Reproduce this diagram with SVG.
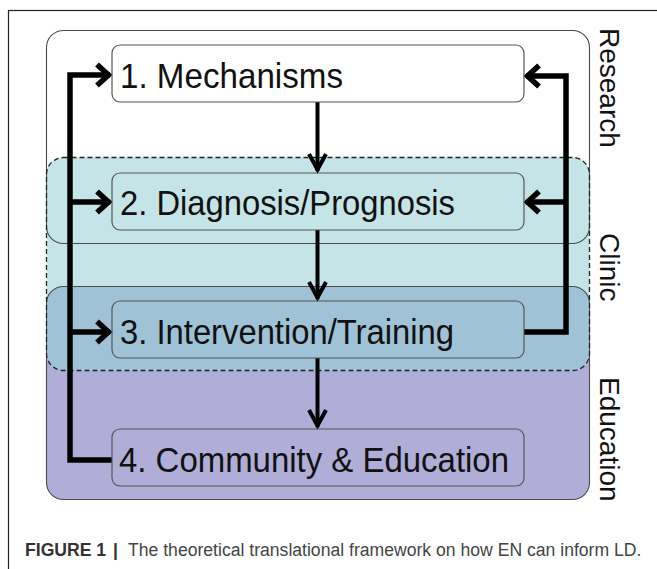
<svg xmlns="http://www.w3.org/2000/svg" width="657" height="569" viewBox="0 0 657 569">
<style>
.frame{fill:none;stroke:#222;stroke-width:1.2}
.box{stroke:#4a4a4a;stroke-width:1.1;fill:none}
.dash{fill:none;stroke:#222;stroke-width:1.3;stroke-dasharray:5 3}
.node{fill:none;stroke:#555;stroke-width:1.2}
.lbl{font-family:"Liberation Sans",Arial,sans-serif;font-size:35px;fill:#111}
.side{font-family:"Liberation Sans",Arial,sans-serif;font-size:28px;fill:#111}
.thick{fill:none;stroke:#000;stroke-width:5.5;stroke-linejoin:miter}
.thin{fill:none;stroke:#000;stroke-width:4}
.cap{font-family:"Liberation Sans",Arial,sans-serif;font-size:17.6px;fill:#444}
</style>
<defs>
<marker id="big" markerUnits="userSpaceOnUse" markerWidth="40" markerHeight="40" refX="0" refY="0" orient="auto" overflow="visible" viewBox="-20 -20 40 40">
<path d="M-13,-10.5 L-1.5,0 L-13,10.5" fill="none" stroke="#000" stroke-width="5.5" stroke-linejoin="miter"/>
</marker>
<marker id="small" markerUnits="userSpaceOnUse" markerWidth="40" markerHeight="40" refX="0" refY="0" orient="auto" overflow="visible" viewBox="-20 -20 40 40">
<path d="M-17,-8.5 L-1.5,0 L-17,8.5" fill="none" stroke="#000" stroke-width="4" stroke-linejoin="miter"/>
</marker>
</defs>
<rect class="frame" x="8.5" y="10.5" width="700" height="600"/>
<g id="regions">
<rect id="research-fill" x="46.5" y="30.5" width="543" height="213" rx="17" fill="#ffffff"/>
<rect id="education-fill" x="46.5" y="286.5" width="543" height="213" rx="17" fill="#b0aed8"/>
<rect id="clinic-fill" x="46.5" y="157.5" width="543" height="213" rx="17" fill="#c5e4e7"/>
<path id="overlap-fill" d="M46.5,303.5 A17,17 0 0 1 63.5,286.5 H572.5 A17,17 0 0 1 589.5,303.5 V353.5 A17,17 0 0 1 572.5,370.5 H63.5 A17,17 0 0 1 46.5,353.5 Z" fill="#a0c2d7"/>
<rect class="box" x="46.5" y="30.5" width="543" height="213" rx="17"/>
<rect class="box" x="46.5" y="286.5" width="543" height="213" rx="17"/>
<rect class="dash" x="46.5" y="157.5" width="543" height="213" rx="17"/>
<text class="side" transform="translate(600,28) rotate(90)">Research</text>
<text class="side" transform="translate(600,233) rotate(90)">Clinic</text>
<text class="side" transform="translate(600,377) rotate(90)">Education</text>
</g>
<g id="connectors">
<path class="thick" d="M112,460 H70 V75 H110" marker-end="url(#big)"/>
<path class="thick" d="M70,202 H110" marker-end="url(#big)"/>
<path class="thick" d="M70,332 H110" marker-end="url(#big)"/>
<path class="thick" d="M524,332 H566 V76 H526" marker-end="url(#big)"/>
<path class="thick" d="M566,202 H526" marker-end="url(#big)"/>
<path class="thin" d="M317.5,102 V171" marker-end="url(#small)"/>
<path class="thin" d="M317.5,230 V299" marker-end="url(#small)"/>
<path class="thin" d="M317.5,358 V427" marker-end="url(#small)"/>
</g>
<g id="node1">
<rect class="node" x="112" y="45" width="412" height="57" rx="8"/>
<text class="lbl" x="120" y="88" textLength="223" lengthAdjust="spacingAndGlyphs">1. Mechanisms</text>
</g>
<g id="node2">
<rect class="node" x="112" y="173" width="412" height="57" rx="8"/>
<text class="lbl" x="120" y="215" textLength="335" lengthAdjust="spacingAndGlyphs">2. Diagnosis/Prognosis</text>
</g>
<g id="node3">
<rect class="node" x="112" y="301" width="412" height="57" rx="8"/>
<text class="lbl" x="120" y="344" textLength="334" lengthAdjust="spacingAndGlyphs">3. Intervention/Training</text>
</g>
<g id="node4">
<rect class="node" x="112" y="429" width="412" height="57" rx="8"/>
<text class="lbl" x="119" y="472" textLength="390" lengthAdjust="spacingAndGlyphs">4. Community &amp; Education</text>
</g>
<text class="cap" y="556"><tspan x="25" font-weight="bold" fill="#333">FIGURE 1</tspan><tspan x="113" font-weight="bold" fill="#333">|</tspan><tspan x="128">The theoretical translational framework on how EN can inform LD.</tspan></text>
</svg>
